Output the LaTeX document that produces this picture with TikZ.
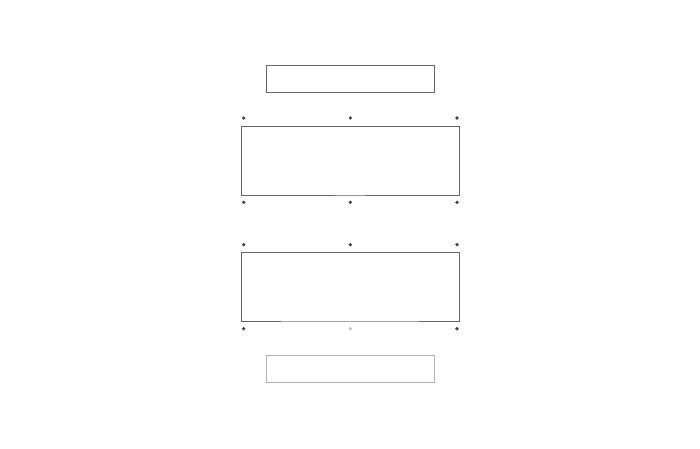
\documentclass[tikz,border=0pt]{standalone}
\usetikzlibrary{positioning}
\tikzstyle{slab} = [draw=black!60,line width=0.7pt,inner sep=0pt,outer sep=0pt,minimum width=218pt,minimum height=69pt]
\tikzstyle{lid} = [draw=black!60,line width=0.7pt,inner sep=0pt,outer sep=0pt,minimum width=168pt,minimum height=27pt]
\tikzstyle{pin} = [circle,fill=black!75,inner sep=0pt,minimum size=3.6pt]

\begin{document}
\begin{tikzpicture}[x=1pt,y=-1pt]
    \useasboundingbox (0,0) rectangle (700,448);
    \node[lid](top) at (350,78.5) {};
    \node[slab](upper) at (350,160.5) {};
    \node[slab](lower) at (350,286.5) {};
    \node[lid,draw=black!30](bottom) at (350,368.5) {};
    % pins round the upper slab
    \node[pin](u_nw) at (243.7,118) {};
    \node[pin](u_n) at (350.3,118) {};
    \node[pin](u_ne) at (457,118) {};
    \node[pin](u_sw) at (243.7,202.3) {};
    \node[pin](u_s) at (350.3,202.3) {};
    \node[pin](u_se) at (457,202.3) {};
    % pins round the lower slab
    \node[pin](l_nw) at (243.7,244.7) {};
    \node[pin](l_n) at (350.3,244.7) {};
    \node[pin](l_ne) at (457,244.7) {};
    \node[pin](l_sw) at (243.7,328.7) {};
    \node[pin,fill=black!25](l_s) at (350.3,328.7) {};
    \node[pin](l_se) at (457,328.7) {};
    % lighter parts of the bottom edges
    \draw[black!40,line width=0.7pt] ([xshift=-15pt]upper.south) -- ([xshift=15pt]upper.south);
    \draw[black!35,line width=0.7pt] ([xshift=-69pt]lower.south) -- ([xshift=69pt]lower.south);
\end{tikzpicture}
\end{document}
